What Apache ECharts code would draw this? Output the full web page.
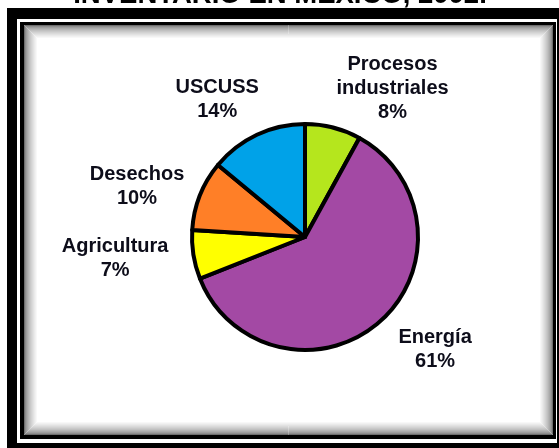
<!DOCTYPE html>
<html>
<head>
<meta charset="utf-8">
<script src="https://cdn.jsdelivr.net/npm/echarts@6/dist/echarts.min.js"></script>
<style>
html,body{margin:0;padding:0;background:#fff;}
#main{width:559px;height:448px;}
</style>
</head>
<body>
<div id="main"></div>
<script>
var titleText = 'INVENTARIO EN MEXICO, 2002.';
var categories = ['Procesos\nindustriales', 'Energía', 'Agricultura', 'Desechos', 'USCUSS'];
var values = [8, 61, 7, 10, 14];
var colors = ['#b5e61d', '#a349a4', '#ffff00', '#ff7f27', '#00a2e8'];
var labelNudge = [[45, 17], [17, -16], [-21, -5], [-9, 12], [-15, 17]];

var chart = echarts.init(document.getElementById('main'));

var graphics = [
  {
    type: 'text', x: 280, y: 9,
    style: { text: titleText, fill: '#000', font: 'bold 27.5px "Liberation Sans", Arial, sans-serif', textAlign: 'center', textVerticalAlign: 'bottom' },
    silent: true, z: 0
  },
  { type: 'rect', shape: { x: 7, y: 8, width: 560, height: 448 }, style: { fill: '#000' }, silent: true, z: 1 },
  { type: 'rect', shape: { x: 17, y: 19, width: 540, height: 424 }, style: { fill: '#fff' }, silent: true, z: 2 },
  { type: 'rect', shape: { x: 20, y: 22, width: 536, height: 417 }, style: { fill: '#000' }, silent: true, z: 3 },
  { type: 'rect', shape: { x: 24, y: 25, width: 529, height: 410 }, style: { fill: '#fff' }, silent: true, z: 4 }
];
var steps = 14;
for (var i = 0; i < steps; i++) {
  var g = Math.round(110 + (255 - 110) * Math.pow(i / (steps - 1), 0.6));
  var c = 'rgb(' + g + ',' + g + ',' + g + ')';
  graphics.push({
    type: 'rect',
    shape: { x: 24.5 + i, y: 25.5 + i, width: 528 - 2 * i, height: 409 - 2 * i },
    style: { fill: null, stroke: c, lineWidth: 1 },
    silent: true, z: 5
  });
}

chart.setOption({
  animation: false,
  graphic: { elements: graphics },
  series: [{
    type: 'pie',
    z: 10,
    center: [305, 237],
    radius: 113,
    startAngle: 90,
    clockwise: true,
    avoidLabelOverlap: false,
    data: categories.map(function (n, i) {
      return { name: n, value: values[i], itemStyle: { color: colors[i] } };
    }),
    itemStyle: { borderColor: '#000', borderWidth: 4 },
    label: {
      show: true,
      position: 'outside',
      formatter: '{b}\n{c}%',
      fontFamily: '"Liberation Sans", Arial, sans-serif',
      fontWeight: 'bold',
      fontSize: 20,
      lineHeight: 24,
      color: '#0d0d1a',
      distanceToLabelLine: 0,
      align: 'center'
    },
    labelLine: { show: false, length: 58, length2: 0 },
    labelLayout: function (params) {
      var o = labelNudge[params.dataIndex];
      return { dx: o[0], dy: o[1], align: 'center', verticalAlign: 'middle' };
    },
    emphasis: { disabled: true }
  }]
});
</script>
</body>
</html>
